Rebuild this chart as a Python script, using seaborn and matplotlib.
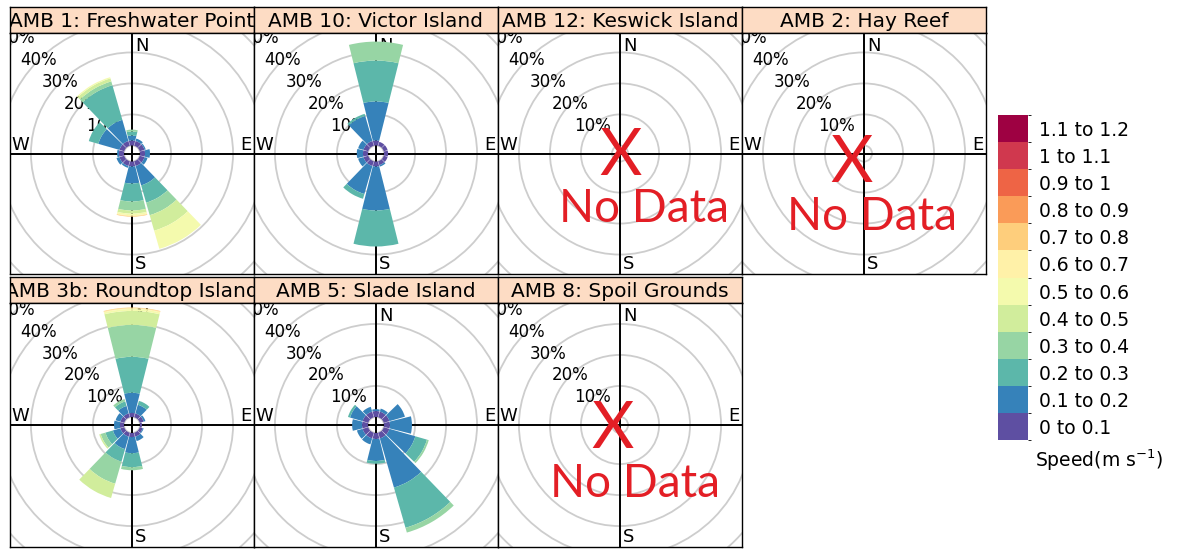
import numpy as np
import matplotlib
matplotlib.use("Agg")
import matplotlib.pyplot as plt
import seaborn as sns
from matplotlib.patches import Circle
from matplotlib.colors import ListedColormap, BoundaryNorm
from matplotlib.cm import ScalarMappable

sns.set_style("white")
plt.rcParams['font.family'] = ['DejaVu Sans']
plt.rcParams['text.color'] = 'black'
plt.rcParams['ytick.color'] = 'black'
plt.rcParams['ytick.labelcolor'] = 'black'

# direction bins (degrees) and speed classes
directions = [0, 30, 60, 90, 120, 150, 180, 210, 240, 270, 300, 330]
speed_labels = ["0 to 0.1", "0.1 to 0.2", "0.2 to 0.3", "0.3 to 0.4", "0.4 to 0.5",
                "0.5 to 0.6", "0.6 to 0.7", "0.7 to 0.8", "0.8 to 0.9", "0.9 to 1",
                "1 to 1.1", "1.1 to 1.2"]

# frequency (%) per direction, split by speed class (slowest first)
amb1_freq = [
    [1.6, 1.6, 1.3, 0.6],
    [1.6, 0.8],
    [1.6, 0.4],
    [1.6, 1.6],
    [1.6, 1.0],
    [1.6, 6.5, 5.8, 4.2, 5.2, 6.1],
    [1.6, 5.5, 5.8, 2.9, 1.0, 0.5, 0.3, 0.2],
    [1.6, 0.6],
    [1.6, 1.0],
    [1.6, 0.6],
    [1.6, 7.1, 3.2],
    [1.6, 7.1, 11.6, 1.3, 1.0, 0.4],
]
amb10_freq = [
    [1.6, 12.6, 13.2, 6.1],
    [1.3],
    [1.3],
    [1.3],
    [1.3],
    [1.3, 0.5],
    [1.6, 14.2, 11.6],
    [1.6, 9.4, 1.6],
    [1.6, 1.8],
    [1.6, 2.0],
    [1.6, 1.8],
    [1.6, 8.4, 0.7],
]
amb3b_freq = [
    [1.3, 6.5, 11.6, 10.3, 4.5, 0.6, 0.3, 0.2],
    [1.3, 2.9, 1.3],
    [1.3, 0.6],
    [0.6],
    [1.0, 0.3],
    [1.3, 1.5],
    [1.3, 5.2, 4.5, 1.0],
    [1.3, 4.2, 4.2, 7.4, 4.8],
    [1.3, 2.5, 2.5, 1.6, 0.5],
    [1.3, 1.9],
    [1.3, 1.6],
    [1.3, 2.5, 1.5, 0.8],
]
amb5_freq = [
    [1.9, 0.6],
    [1.9, 1.0],
    [1.9, 5.2],
    [1.9, 7.1],
    [1.9, 8.7, 3.9, 0.6],
    [1.9, 16.5, 13.5, 1.6],
    [1.9, 7.1, 0.9],
    [1.9, 2.0],
    [1.9, 1.9],
    [1.9, 3.2],
    [1.9, 4.2, 0.7],
    [1.9, 1.6],
]

site_titles = ["AMB 1: Freshwater Point", "AMB 10: Victor Island", "AMB 12: Keswick Island",
               "AMB 2: Hay Reef", "AMB 3b: Roundtop Island", "AMB 5: Slade Island",
               "AMB 8: Spoil Grounds"]
site_freqs = [amb1_freq, amb10_freq, None, None, amb3b_freq, amb5_freq, None]
ring_levels = [10, 20, 30, 40, 50]

cmap = sns.color_palette("Spectral_r", as_cmap=True)
speed_colors = [cmap(i / 11) for i in range(12)]

W, H = 1181, 550
fig = plt.figure(figsize=(W / 100, H / 100), dpi=100)


def frac(x0, y0, x1, y1):
    return [x0 / W, 1 - y1 / H, (x1 - x0) / W, (y1 - y0) / H]


PX = 3.1      # pixels per percent
HOLE = 2.6    # centre offset, in percent units
RMAX = 42
strip_color = "#FDDCC4"
red = "#E31E25"
col_x = [10, 254, 498, 742]
rows = [(7, 33, 274), (277, 303, 547)]
panel_w = 244

# red "No Data" overlays: (X centre, X baseline, text centre, text baseline)
no_data = {2: (621, 175, 644, 222), 3: (852, 182, 872, 230), 6: (613, 448, 635, 497)}

for i, (title, freq) in enumerate(zip(site_titles, site_freqs)):
    r, c = divmod(i, 4)
    x0, x1 = col_x[c], col_x[c] + panel_w
    s0, p0, p1 = rows[r]

    sax = fig.add_axes(frac(x0, s0, x1, p0))
    sax.set_facecolor(strip_color)
    sax.set_xticks([]); sax.set_yticks([])
    for sp in sax.spines.values():
        sp.set_color("black"); sp.set_linewidth(1)
    sax.text(0.5, 0.45, title, ha="center", va="center", fontsize=14.5,
             transform=sax.transAxes, clip_on=True)

    ax = fig.add_axes(frac(x0, p0, x1, p1))
    hw, hh = (x1 - x0) / 2 / PX, (p1 - p0) / 2 / PX
    ax.set_xlim(-hw, hw); ax.set_ylim(-hh, hh)
    ax.set_xticks([]); ax.set_yticks([])
    for sp in ax.spines.values():
        sp.set_color("black"); sp.set_linewidth(1)
    for v in [0] + ring_levels + [60]:
        ax.add_patch(Circle((0, 0), HOLE + v, fill=False, ec="#CDCDCD", lw=1.3, zorder=1))
    ax.axhline(0, color="black", lw=1.4, zorder=2)
    ax.axvline(0, color="black", lw=1.4, zorder=2)
    for v in ring_levels:
        rr = (HOLE + v) / np.sqrt(2)
        ax.text(-rr, rr, f"{v}%", ha="center", va="center", fontsize=12, clip_on=True, zorder=3)
    ax.text(0.5 + 3 / panel_w, 1 - 4 / (p1 - p0), "N", transform=ax.transAxes,
            ha="left", va="top", fontsize=13)
    ax.text(0.5 + 3 / panel_w, 1 / (p1 - p0), "S", transform=ax.transAxes,
            ha="left", va="bottom", fontsize=13)
    ax.text(1 / panel_w, 0.5, "W", transform=ax.transAxes, ha="left", va="bottom", fontsize=13)
    ax.text(1 - 2 / panel_w, 0.5, "E", transform=ax.transAxes, ha="right", va="bottom", fontsize=13)

    if freq is None:
        xx, xb, tx, tb = no_data[i]
        fig.text(xx / W, 1 - xb / H, "X", color=red, fontsize=47, family="Lato",
                 ha="center", va="baseline")
        fig.text(tx / W, 1 - tb / H, "No Data", color=red, fontsize=33, family="Lato",
                 ha="center", va="baseline")
        continue

    # stacked rose petals on a polar axes sharing the panel centre and scale
    cx, cy = (x0 + x1) / 2, (p0 + p1) / 2
    R = RMAX * PX
    pax = fig.add_axes(frac(cx - R, cy - R, cx + R, cy + R), projection="polar")
    pax.set_theta_zero_location("N")
    pax.set_theta_direction(-1)
    pax.set_rlim(0, RMAX)
    pax.patch.set_visible(False)
    pax.spines["polar"].set_visible(False)
    pax.grid(False)
    pax.set_xticks([]); pax.set_yticks([])

    table = np.zeros((len(directions), len(speed_labels)))
    for d, seg in enumerate(freq):
        table[d, :len(seg)] = seg
    theta = np.deg2rad(directions)
    bottom = np.full(len(directions), HOLE)
    for k, col in enumerate(speed_colors):
        pax.bar(theta, table[:, k], width=np.deg2rad(28), bottom=bottom,
                color=col, edgecolor="none", linewidth=0, align="center")
        bottom = bottom + table[:, k]

# speed key
bounds = np.round(np.arange(0, 1.21, 0.1), 1)
cax = fig.add_axes(frac(998, 115, 1028, 440))
sm = ScalarMappable(norm=BoundaryNorm(bounds, 12), cmap=ListedColormap(speed_colors))
cbar = fig.colorbar(sm, cax=cax)
cbar.set_ticks(bounds[:-1] + 0.05)
cbar.set_ticklabels(speed_labels)
cbar.outline.set_visible(False)
cax.tick_params(length=0, pad=8, labelsize=13.5, labelcolor="black")
fig.text(1035 / W, 1 - 460 / H, "Speed(m s$^{-1}$)", fontsize=13.5, ha="left", va="center")

fig.savefig("out.png", dpi=100)
